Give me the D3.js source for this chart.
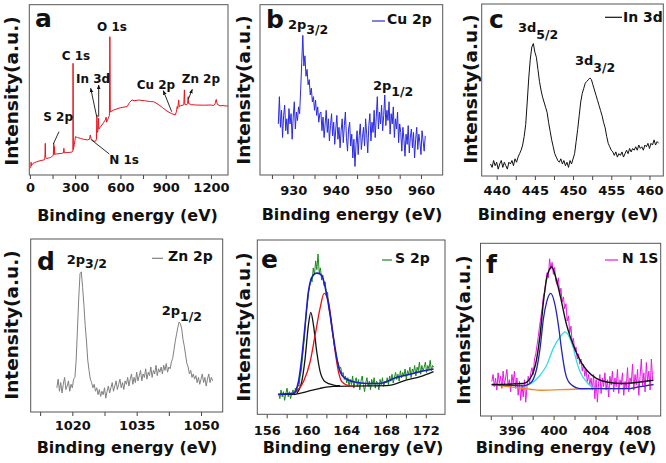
<!DOCTYPE html>
<html><head><meta charset="utf-8">
<script src="https://cdn.jsdelivr.net/npm/d3@7"></script>
<style>body{margin:0;background:#fff}svg{display:block}</style>
</head><body><svg id="c" width="666" height="463"></svg>
<script>
// ---------- DATA ----------
// (a) survey spectrum: binding energy (eV) and intensity (a.u.)
const surveyE = [0,6,8,10,20,30,45,60,80,98,100,102,104,110,125,137,145,155,158,160,162,165,180,200,215,223,225,228,245,265,280,285,286,288,295,302,315,335,355,380,395,400,405,420,435,441,444,447,451,454,457,470,490,500,505,508,520,527,530,533,556,600,644,660,677,690,720,760,800,821,850,880,909,940,964,972,976,980,986,990,1000,1015,1020,1024,1027,1040,1045,1049,1052,1070,1100,1150,1200,1218,1228,1235,1242,1260,1280,1300,1313];
const surveyI = [3.9,4.5,7.5,5.5,6.8,7.2,7.8,8.2,8.6,9,12,18.6,10.5,9.6,10,10.3,10.8,11.5,18.6,12,16.7,12.2,12.4,12.6,12.8,13,15.7,13,13.2,13.3,13.5,14,65.6,15,18,22.5,22,21.5,21,20.6,21,23.5,21.5,20,19.8,21,35.3,25,26,33.3,27,28.5,31,32.3,34,31,33.5,35,81.2,37,38.2,39.5,40.2,42.5,44.1,43.6,44,43.6,43.1,43,41.5,39.5,37.5,36,35.3,37.5,40.2,39,44.1,40,40.8,41,41.2,50,41.5,41.3,42,46,42,41.3,41.1,41,41.1,40.8,42,44.4,41.5,40.6,40.8,40.5,40.6];
const surveyTicks = [0,150,300,450,600,750,900,1050,1200];
const surveyLabels = [0,300,600,900,1200];

// (b) Cu 2p
const cuStart = 926.5, cuStep = 0.25;
const cuI = [30,46,28,38,22,35,41,26,33,24,39,30,36,21,34,43,27,37,32,40,
  36,50,66,82,64,70,58,62,53,56,47,51,43,46,38,44,35,40,31,36,
  37,26,34,22,30,38,25,33,20,29,36,23,31,18,27,35,21,28,16,26,
  33,19,29,37,22,14,27,31,17,24,10,21,5,18,26,12,23,30,15,22,
  28,17,33,24,13,29,36,20,31,25,38,22,34,46,27,37,30,41,26,35,
  47,29,38,32,43,24,36,30,40,22,33,27,37,19,30,25,14,28,21,11,
  24,18,29,13,22,27,16,25,10,21,28,15,24,19,12,26,20,14,23];
const cuTicks = [925,930,935,940,945,950,955,960];
const cuLabels = [930,940,950,960];

// (c) In 3d
const inStart = 439.2, inStep = 0.2;
const inI = [7,5,9,6,8,4,7,9,5,8,6,4,8,7,9,6,10,8,11,13,
  15,18,23,30,43,57,68,75,77,72,69,62,55,50,46,43,40,37,31,26,
  21,17,13,11,9,8,10,7,9,6,8,5,9,7,10,13,20,27,35,43,
  48,51,54,55,56,57,56,53,50,47,44,41,38,35,31,28,23,19,17,15,
  14,12,14,11,13,12,14,11,13,15,13,16,14,16,15,17,15,18,16,17,
  15,18,17,19,16,19,18,21,18,20,19];
const inTicks = [440,442.5,445,447.5,450,452.5,455,457.5,460];
const inLabels = [440,445,450,455,460];

// (d) Zn 2p
const znStart = 1016.4, znStep = 0.3;
const znI = [14,19,12,17,11,16,20,13,15,18,12,16,14,19,
  20,30,48,66,80,81,72,62,50,41,30,24,19,17,14,16,12,14,10,13,9,12,10,14,8,12,
  15,11,14,17,12,15,18,13,16,19,14,17,13,18,16,20,15,19,22,16,
  20,17,23,18,21,24,18,22,20,25,19,23,21,26,20,24,22,27,21,25,
  23,26,22,27,24,28,23,26,25,29,31,36,41,45,49,52,51,48,42,38,
  33,28,26,22,24,20,22,19,21,17,20,16,19,22,17,20,15,19,22,17,20,18];
const znTicks = [1012.5,1020,1027.5,1035,1042.5,1050];
const znLabels = [1020,1035,1050];

// (e) S 2p raw data and fit
const sStart = 157.2, sStep = 0.12;
const sI = [12,9,14,10,13,8,12,15,10,13,9,12,14,11,15,13,17,16,22,25,
  33,40,48,58,63,70,74,78,76,84,80,88,83,92,81,84,77,80,74,76,
  68,70,61,58,52,47,43,38,35,31,29,26,27,23,24,20,22,18,21,16,
  20,17,22,15,19,21,16,20,14,19,22,17,13,18,21,16,19,14,20,17,
  21,15,19,18,14,20,17,21,16,19,18,21,17,22,19,23,18,21,24,20,
  23,19,25,21,24,22,26,20,25,23,27,21,26,24,28,22,27,25,30,23,
  28,25,27,30,24,28,26,31,25,28,27];
const sEnvE = [157.17,158.68,159.19,159.52,159.86,160.19,160.7,161.03,161.37,161.7,162.04,162.38,162.71,163.05,163.38,163.89,164.72,166.07,167.41,168.08,168.75,170.09,171.44,172.78];
const sEnvI = [11.4,12,18.7,32.1,51.2,70.3,80,81,80.5,77.1,68.4,57.1,44,32.1,24.5,20.6,18.7,17.7,17.7,18.7,20.6,22.5,24.5,26];
const sRedE = [158.68,159.69,160.36,160.87,161.37,161.77,162.21,162.54,162.88,163.21,163.55,164.05,164.72];
const sRedI = [12,18.7,30,45.6,61,69.4,64.6,51.2,35.9,24.5,18.7,16.8,16.2];
const sBlkE = [159.02,159.52,159.86,160.19,160.43,160.7,161.03,161.37,161.87,162.71,163.38];
const sBlkI = [12,18.7,32.1,51.2,58.5,51.2,35.9,24.5,18.7,16.8,16.4];
const sBaseE = [157.17,158.68,160.03,161.37,162.71,164.72,168.08,170.09,171.44,172.78];
const sBaseI = [11.4,11.4,13,14.9,16,16.2,16.4,19.7,21.6,24.5];
const sTicks = [156,158,160,162,164,166,168,170,172];
const sLabels = [156,160,164,168,172];

// (f) N 1s raw data and fit
const nStart = 394.1, nStep = 0.12;
const nI = [20,24,17,22,15,25,19,23,16,26,18,22,27,17,21,14,24,19,26,16,
  22,12,20,9,18,11,21,8,17,23,19,25,28,24,33,36,41,46,52,57,
  62,69,72,78,83,80,91,85,89,82,86,78,76,80,70,74,66,69,62,65,
  55,58,48,52,42,45,37,40,33,36,30,33,26,30,23,27,20,24,18,22,
  15,24,10,21,8,19,24,13,22,17,25,15,21,11,23,18,26,14,22,17,
  27,13,21,18,25,12,20,16,28,14,22,19,30,15,24,18,27,12,23,33,
  17,25,14,31,20,26,15,33,21];
const nSumE = [394.09,397.11,397.75,398.39,398.71,399.03,399.34,399.66,399.82,400.14,400.62,401.25,401.89,402.53,403.17,404.12,405.08,406.67,408.26,409.54];
const nSumI = [18.2,18.8,21.6,33.2,46.8,66.1,79.6,85.5,86.4,81.6,70,52.6,41,32.3,26.5,21.6,19.7,18.8,19.7,20.7];
const nBlueE = [394.09,397.11,397.75,398.39,398.71,399.03,399.34,399.73,400.14,400.46,400.78,401.1,401.57,402.53,405.08,407.31,408.26,409.54];
const nBlueI = [18.2,17.5,18.8,27.5,39.3,56.4,66.1,71,64.2,52.6,37.6,25.6,18.8,15.9,15.9,15.9,17,18.2];
const nCyanE = [397.11,398.07,398.71,399.34,399.98,400.62,401.1,401.57,401.89,402.21,402.53,403.17,403.8,404.76];
const nCyanI = [17,19.7,23.6,29.4,39.3,45.8,48.7,44.8,39.3,31.3,25.6,19.7,16.4,15.9];
const nBaseE = [394.09,397.75,398.71,401.89,405.08,407.31,408.26,409.54];
const nBaseI = [18.2,15.5,14.9,15.5,15.9,15.9,17,18.2];
const nTicks = [394,396,398,400,402,404,406,408];
const nLabels = [396,400,404,408];

// ---------- DRAWING ----------
const svg = d3.select('#c');
const FONT = "'DejaVu Sans', sans-serif";
const zip = (a, b) => a.map((v, i) => [v, b[i]]);
const grid = (start, step, vals) => vals.map((v, i) => [start + i * step, v]);

function panel(c) {
  const x = d3.scaleLinear().domain(c.xd).range([c.l, c.r]);
  const y = d3.scaleLinear().domain([0, 100]).range([c.b, c.t]);
  const g = svg.append('g');
  const ax = g.append('g').attr('transform', `translate(0,${c.b})`)
    .call(d3.axisBottom(x).tickValues(c.ticks).tickSize(4).tickSizeOuter(0)
      .tickFormat(d => c.labels.includes(d) ? String(d) : ''));
  ax.select('.domain').remove();
  ax.selectAll('line').attr('stroke', '#444');
  ax.selectAll('text').attr('y', c.lb - c.b).attr('dy', 0)
    .attr('font-family', FONT).attr('font-weight', 'bold').attr('font-size', 13).attr('fill', '#111');
  c.series.forEach(s => {
    g.append('path').datum(s.data).attr('fill', 'none').attr('stroke', s.color)
      .attr('stroke-width', s.w || 1).attr('stroke-linejoin', 'round')
      .attr('d', d3.line().x(d => x(d[0])).y(d => y(d[1]))
        .curve(s.smooth ? d3.curveMonotoneX : d3.curveLinear));
  });
  g.append('rect').attr('x', c.l).attr('y', c.t).attr('width', c.r - c.l).attr('height', c.b - c.t)
    .attr('fill', 'none').attr('stroke', '#555').attr('stroke-width', 1);
  // axis titles
  g.append('text').attr('x', c.xtx).attr('y', c.xty).attr('text-anchor', 'middle')
    .attr('font-family', FONT).attr('font-weight', 'bold').attr('font-size', 16).attr('fill', '#111')
    .text('Binding energy (eV)');
  g.append('text').attr('transform', `translate(${c.ytx},${c.yty}) rotate(-90)`).attr('text-anchor', 'middle')
    .attr('font-family', FONT).attr('font-weight', 'bold').attr('font-size', 18.5).attr('fill', '#111')
    .text('Intensity(a.u.)');
  // panel letter
  g.append('text').attr('x', c.lx).attr('y', c.ly)
    .attr('font-family', FONT).attr('font-weight', 'bold').attr('font-size', 25).attr('fill', '#111')
    .text(c.letter);
  // legend
  if (c.leg) {
    g.append('line').attr('x1', c.leg.x1).attr('x2', c.leg.x2).attr('y1', c.leg.ly).attr('y2', c.leg.ly)
      .attr('stroke', c.leg.color).attr('stroke-width', 1.2);
    g.append('text').attr('x', c.leg.tx).attr('y', c.leg.ty)
      .attr('font-family', FONT).attr('font-weight', 'bold').attr('font-size', 14).attr('fill', '#111')
      .text(c.leg.text);
  }
  // peak labels with subscripts
  (c.peaks || []).forEach(p => {
    const t = g.append('text').attr('x', p.x).attr('y', p.y)
      .attr('font-family', FONT).attr('font-weight', 'bold').attr('font-size', 13).attr('fill', '#111');
    t.append('tspan').text(p.main);
    t.append('tspan').attr('dy', p.dy).attr('font-size', 12.5).text(p.sub);
  });
  return { g, x, y };
}

panel({ l: 29.3, r: 228, t: 4.7, b: 175, xd: [-4, 1313], lb: 191.7,
  ticks: surveyTicks, labels: surveyLabels,
  xtx: 127.5, xty: 221, ytx: 18, yty: 91, letter: 'a', lx: 35, ly: 27,
  series: [{ data: zip(surveyE, surveyI), color: '#e8141e', w: 1 }] });

panel({ l: 260, r: 442.7, t: 4.7, b: 175, xd: [922.2, 965.1], lb: 195,
  ticks: cuTicks, labels: cuLabels,
  xtx: 352, xty: 220, ytx: 249.5, yty: 90, letter: 'b', lx: 266, ly: 28,
  leg: { x1: 372, x2: 385, ly: 21, color: '#2a2ae0', tx: 387, ty: 23.5, text: 'Cu 2p' },
  peaks: [{ x: 288, y: 28.5, main: '2p', sub: '3/2', dy: 5.5 }, { x: 373, y: 90, main: '2p', sub: '1/2', dy: 5.5 }],
  series: [{ data: grid(cuStart, cuStep, cuI), color: '#2a2ae0', w: 1 }] });

panel({ l: 481.7, r: 663.3, t: 4, b: 176, xd: [438.04, 461.81], lb: 195,
  ticks: inTicks, labels: inLabels,
  xtx: 568, xty: 220, ytx: 476.5, yty: 89, letter: 'c', lx: 489, ly: 28,
  leg: { x1: 605, x2: 622, ly: 17.3, color: '#111', tx: 623, ty: 22, text: 'In 3d' },
  peaks: [{ x: 518, y: 32.3, main: '3d', sub: '5/2', dy: 6.5 }, { x: 575, y: 65, main: '3d', sub: '3/2', dy: 7 }],
  series: [{ data: grid(inStart, inStep, inI), color: '#111', w: 1 }] });

panel({ l: 30.7, r: 222.7, t: 239, b: 412, xd: [1010.3, 1055.05], lb: 430,
  ticks: znTicks, labels: znLabels,
  xtx: 127, xty: 453, ytx: 17.5, yty: 325, letter: 'd', lx: 37, ly: 270,
  leg: { x1: 152, x2: 163, ly: 258.3, color: '#808080', tx: 168, ty: 261, text: 'Zn 2p' },
  peaks: [{ x: 66.7, y: 264, main: '2p', sub: '3/2', dy: 4 }, { x: 161.7, y: 315, main: '2p', sub: '1/2', dy: 6 }],
  series: [{ data: grid(znStart, znStep, znI), color: '#808080', w: 1 }] });

panel({ l: 257.3, r: 445, t: 240, b: 414.3, xd: [155.05, 173.93], lb: 435,
  ticks: sTicks, labels: sLabels,
  xtx: 353, xty: 453, ytx: 249.5, yty: 327, letter: 'e', lx: 261, ly: 268,
  leg: { x1: 382, x2: 392, ly: 260, color: '#1b8a1b', tx: 395, ty: 262.7, text: 'S 2p' },
  series: [
    { data: grid(sStart, sStep, sI), color: '#1b8a1b', w: 1 },
    { data: zip(sBaseE, sBaseI), color: '#111', w: 1.3, smooth: true },
    { data: zip(sBlkE, sBlkI), color: '#111', w: 1.3, smooth: true },
    { data: zip(sRedE, sRedI), color: '#e81010', w: 1.3, smooth: true },
    { data: zip(sEnvE, sEnvI), color: '#1c1cc8', w: 1.6, smooth: true }] });

panel({ l: 480.5, r: 660.7, t: 243.3, b: 416, xd: [393.02, 410.23], lb: 435,
  ticks: nTicks, labels: nLabels,
  xtx: 566, xty: 453, ytx: 469.5, yty: 330, letter: 'f', lx: 486, ly: 273,
  leg: { x1: 605, x2: 618, ly: 260, color: '#e619e6', tx: 622, ty: 262.7, text: 'N 1S' },
  series: [
    { data: grid(nStart, nStep, nI), color: '#e619e6', w: 1 },
    { data: zip(nBaseE, nBaseI), color: '#f08a24', w: 1.3, smooth: true },
    { data: zip(nCyanE, nCyanI), color: '#33dde6', w: 1.3, smooth: true },
    { data: zip(nBlueE, nBlueI), color: '#2323b5', w: 1.3, smooth: true },
    { data: zip(nSumE, nSumI), color: '#111', w: 1.4, smooth: true }] });

// ---------- survey annotations ----------
const ann = svg.append('g').attr('font-family', FONT).attr('font-weight', 'bold')
  .attr('font-size', 12).attr('fill', '#111');
[['O 1s', 97, 31], ['C 1s', 61.7, 59.5], ['In 3d', 76, 82.5], ['Cu 2p', 136.7, 89],
 ['Zn 2p', 181.7, 82.5], ['S 2p', 43.3, 120.7], ['N 1s', 109.3, 163.5]]
  .forEach(([t, x, y]) => ann.append('text').attr('x', x).attr('y', y).text(t));

const defs = svg.append('defs');
defs.append('marker').attr('id', 'ah').attr('viewBox', '0 0 10 10').attr('refX', 9).attr('refY', 5)
  .attr('markerWidth', 5).attr('markerHeight', 5).attr('orient', 'auto')
  .append('path').attr('d', 'M0,1 L10,5 L0,9 Z').attr('fill', '#111');
[[59, 131.7, 53.3, 144, false], [96.7, 116.7, 90.7, 88.3, true], [98.7, 116.7, 98.7, 85, true],
 [171.7, 111.7, 163.3, 90.7, true], [188.3, 99.3, 192.3, 89.3, true], [90.7, 139.3, 109.3, 154, false]]
  .forEach(([x1, y1, x2, y2, arrow]) => {
    const l = svg.append('line').attr('x1', x1).attr('y1', y1).attr('x2', x2).attr('y2', y2)
      .attr('stroke', '#111').attr('stroke-width', 0.9);
    if (arrow) l.attr('marker-end', 'url(#ah)');
  });
</script></body></html>
